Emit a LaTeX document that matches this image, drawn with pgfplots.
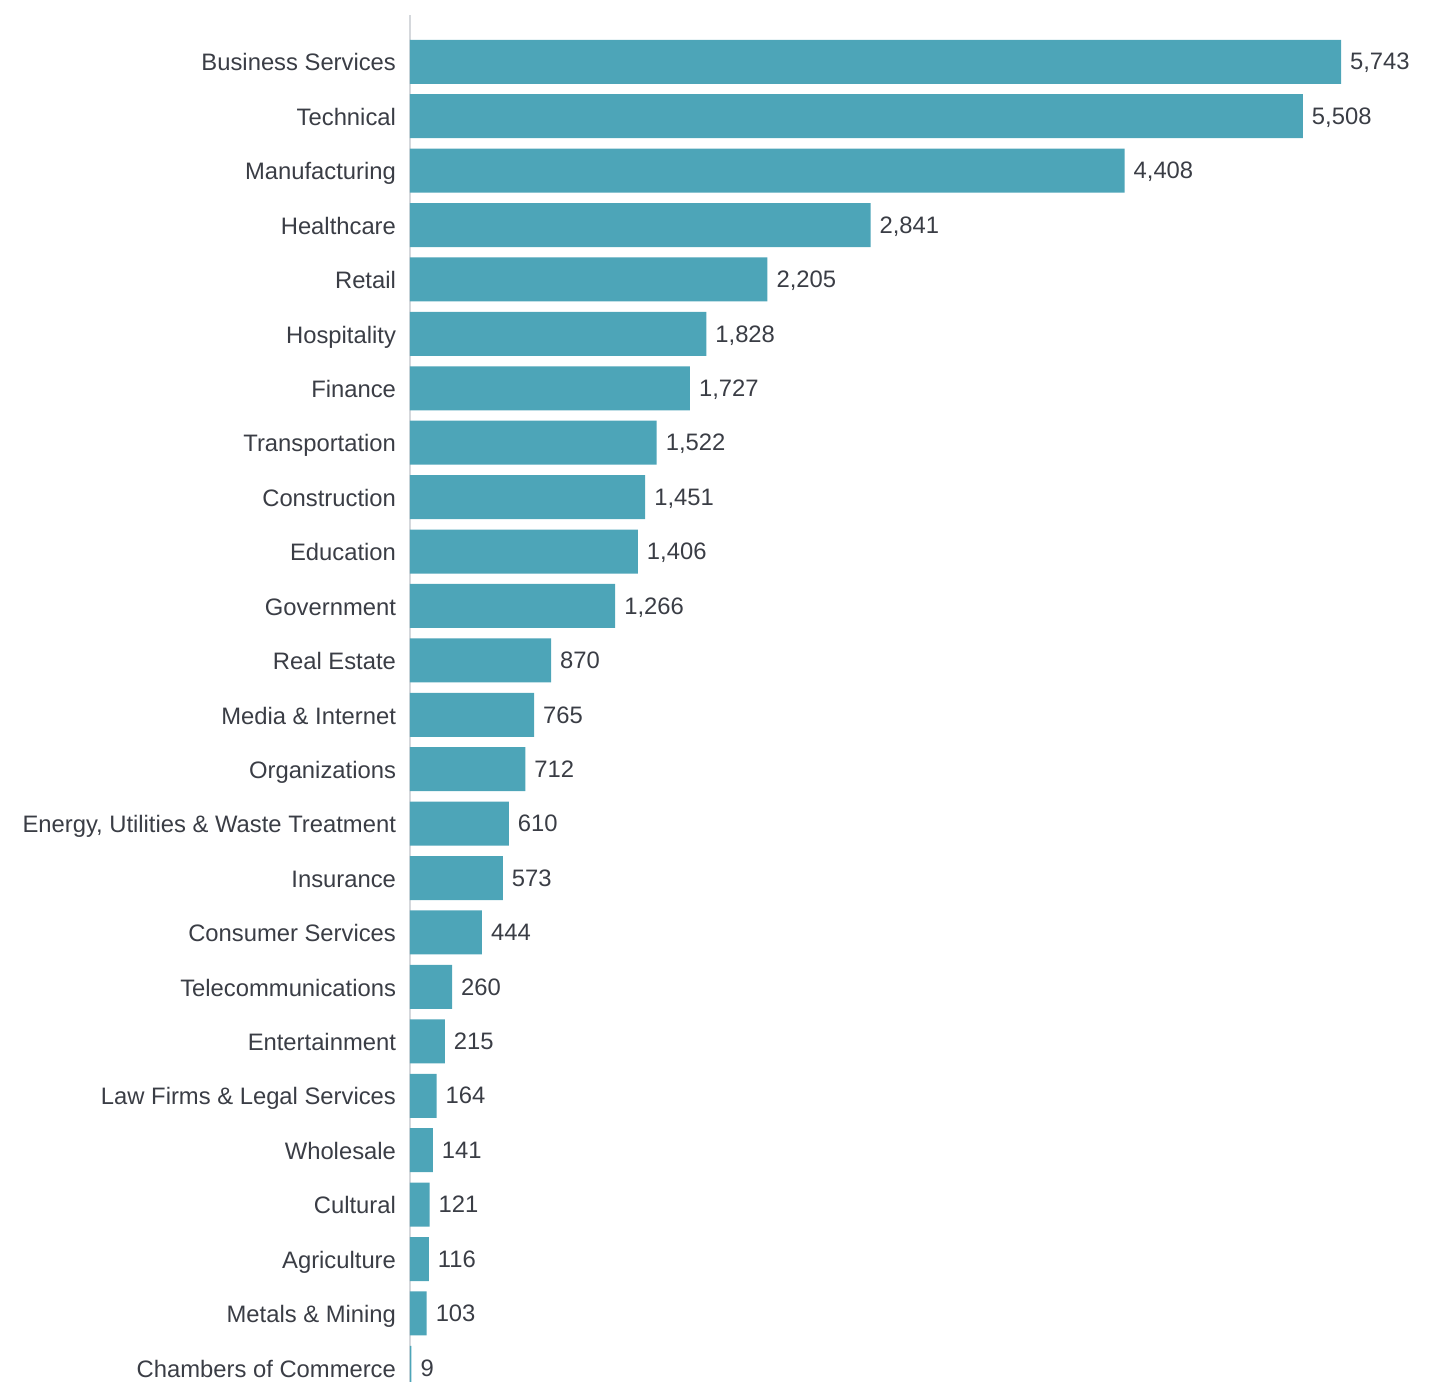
\documentclass[border=0pt]{standalone}
\usepackage{pgfplots}
\pgfplotsset{compat=1.18}
\usepackage{fontspec}
\setmainfont{Liberation Sans}
\definecolor{barc}{HTML}{4DA5B8}
\definecolor{txt}{HTML}{3A3D45}
\definecolor{axc}{HTML}{D5D8DC}
\begin{document}
\begin{tikzpicture}
\begin{axis}[
  at={(0,0)}, anchor=south west,
  scale only axis,
  width=486.35pt, height=683.5pt,
  xbar, bar width=22pt,
  xmin=0, xmax=6000,
  ymin=-0.26, ymax=24.86,
  axis x line=none,
  axis y line*=left,
  y axis line style={axc, line width=1pt, -},
  ytick={0,...,24},
  yticklabels={Chambers of Commerce,Metals \& Mining,Agriculture,Cultural,Wholesale,Law Firms \& Legal Services,Entertainment,Telecommunications,Consumer Services,Insurance,{Energy, Utilities \& Waste Treatment},Organizations,Media \& Internet,Real Estate,Government,Education,Construction,Transportation,Finance,Hospitality,Retail,Healthcare,Manufacturing,Technical,Business Services},
  major tick length=0pt,
  yticklabel style={font=\fontsize{11.9}{14}\selectfont, text=txt, xshift=-3.5pt, yshift=-2pt, text height=0.72em, text depth=0.2em},
  nodes near coords,
  nodes near coords style={font=\fontsize{11.9}{14}\selectfont, text=txt, /pgf/number format/1000 sep={,}, /pgf/number format/assume math mode=true, xshift=1pt, yshift=-1.5pt, text height=0.72em, text depth=0.2em},
  clip=true,
]
\addplot[fill=barc, draw=none] coordinates {
(9,0) (103,1) (116,2) (121,3) (141,4) (164,5) (215,6) (260,7) (444,8) (573,9) (610,10) (712,11) (765,12) (870,13) (1266,14) (1406,15) (1451,16) (1522,17) (1727,18) (1828,19) (2205,20) (2841,21) (4408,22) (5508,23) (5743,24)
};
\end{axis}
\pgfresetboundingbox
\path[use as bounding box] (-205pt,0pt) rectangle (519pt,691pt);
\end{tikzpicture}
\end{document}
